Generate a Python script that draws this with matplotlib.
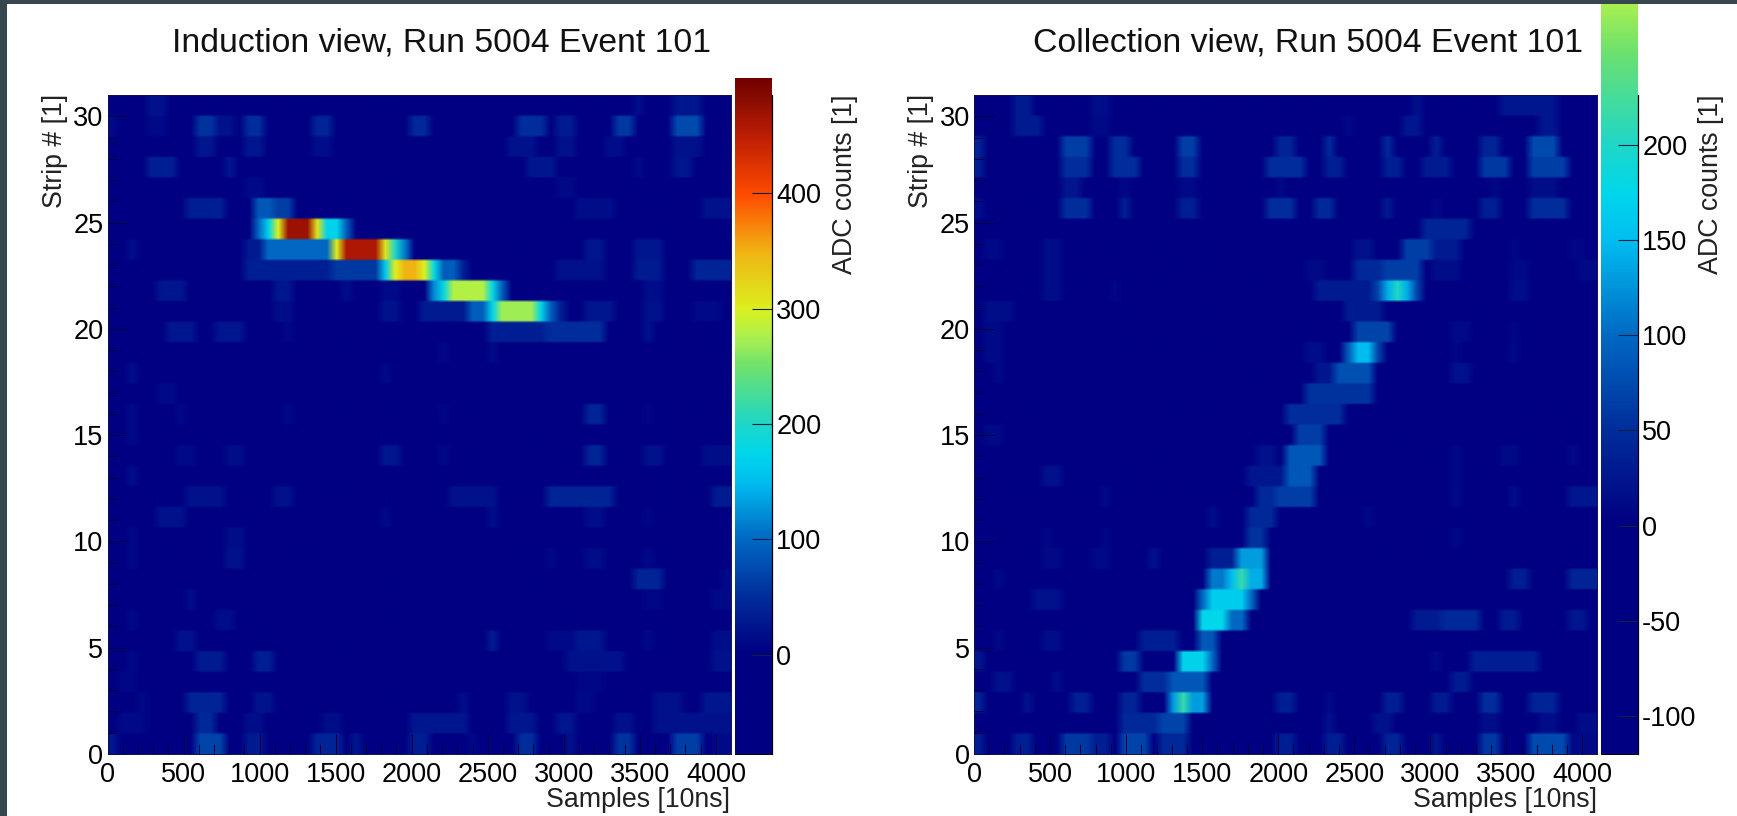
import numpy as np
import matplotlib
matplotlib.use("Agg")
import matplotlib.pyplot as plt
from matplotlib.colors import LinearSegmentedColormap, Normalize
from matplotlib.patches import Rectangle
from matplotlib.ticker import MultipleLocator

plt.rcParams['font.family'] = ['Liberation Sans', 'DejaVu Sans']
plt.rcParams['axes.unicode_minus'] = False

# hits per strip row: (first sample, last sample, adc counts)
ind_00 = [(0, 85, 25), (570, 790, 70), (905, 1020, 30), (1375, 1510, 40), (1610, 1690, 25), (1995, 2110, 35), (2340, 2430, 10), (2665, 2830, 50), (3015, 3085, 20), (3320, 3450, 55), (3685, 3905, 65), (3940, 4070, 10)]
ind_01 = [(85, 235, 10), (555, 720, 45), (920, 1055, 15), (1390, 1525, 15), (1995, 2365, 25), (2615, 2830, 25), (2930, 3100, 25), (3300, 3435, 20), (3585, 4096, 20)]
ind_02 = [(185, 250, 10), (535, 740, 40), (955, 1070, 22), (2280, 2365, 15), (2630, 2765, 20), (3065, 3200, 10), (3600, 3770, 20), (3920, 4096, 25)]
ind_03 = [(85, 185, 8), (3065, 3235, 8)]
ind_04 = [(115, 220, 10), (555, 755, 30), (940, 1090, 35), (3030, 3420, 20), (3955, 4096, 20)]
ind_05 = [(450, 585, 20), (2465, 2580, 30), (2900, 3065, 10), (3085, 3265, 25), (3535, 3585, 10), (3940, 4070, 15)]
ind_06 = [(150, 220, 10), (720, 840, 15)]
ind_07 = [(485, 550, 15), (3520, 3620, 8), (3955, 4070, 12)]
ind_08 = [(3450, 3620, 40), (4020, 4096, 10)]
ind_09 = [(115, 200, 10), (737, 870, 20), (2900, 2950, 10), (3135, 3235, 15), (3520, 3585, 10)]
ind_10 = [(115, 200, 10), (790, 870, 15)]
ind_11 = [(350, 485, 20), (1810, 1875, 10), (2500, 2580, 15), (3135, 3250, 15), (3550, 3585, 8)]
ind_12 = [(485, 790, 20), (1090, 1240, 20), (2210, 2530, 20), (2850, 3300, 40), (3970, 4096, 30)]
ind_13 = [(115, 200, 15)]
ind_14 = [(450, 550, 12), (790, 890, 15), (1790, 1910, 25), (2160, 2230, 10), (3115, 3285, 40), (3520, 3620, 20), (3920, 4070, 15)]
ind_15 = [(115, 185, 12)]
ind_16 = [(115, 220, 12), (450, 535, 10), (1140, 1205, 10), (2195, 2245, 8), (3115, 3285, 40), (3535, 3600, 8)]
ind_17 = [(335, 435, 12)]
ind_18 = [(115, 220, 15), (1810, 1875, 10)]
ind_19 = [(2160, 2210, 10), (2465, 2530, 12)]
ind_20 = [(400, 585, 25), (720, 870, 25), (1155, 1205, 10), (2465, 2900, 35), (2900, 3265, 50), (3500, 3600, 20)]
ind_21 = [(1090, 1220, 15), (1790, 1925, 20), (2060, 2395, 30), (2395, 2495, 90), (2495, 2565, 170), (2565, 2800, 270), (2800, 2865, 170), (2865, 2930, 90), (2930, 2980, 35), (3115, 3300, 25), (3520, 3620, 20), (3870, 4040, 10)]
ind_22 = [(335, 500, 25), (1090, 1240, 25), (1525, 1590, 15), (1790, 1890, 12), (2095, 2180, 120), (2180, 2260, 180), (2260, 2495, 280), (2495, 2580, 180), (2580, 2630, 90), (3520, 3620, 15)]
ind_23 = [(920, 1460, 35), (1460, 1776, 60), (1776, 1860, 160), (1860, 1925, 300), (1925, 2060, 350), (2060, 2130, 300), (2130, 2195, 180), (2195, 2295, 90), (2295, 2380, 35), (2915, 3265, 20), (3485, 3670, 30), (3870, 4096, 40)]
ind_24 = [(115, 220, 15), (870, 1040, 30), (1040, 1460, 100), (1460, 1490, 170), (1490, 1560, 300), (1560, 1790, 460), (1790, 1845, 310), (1845, 1895, 200), (1895, 1945, 110), (3115, 3265, 25), (3485, 3620, 25)]
ind_25 = [(955, 1040, 100), (1040, 1090, 170), (1090, 1150, 300), (1150, 1375, 470), (1375, 1430, 310), (1430, 1510, 170), (1510, 1590, 90)]
ind_26 = [(500, 755, 35), (940, 1090, 85), (1090, 1223, 65), (3050, 3335, 15), (3905, 4096, 20)]
ind_27 = [(905, 1055, 12), (2950, 3050, 12)]
ind_28 = [(285, 435, 35), (737, 855, 25), (2780, 2915, 25), (3435, 3520, 12), (3735, 3855, 25)]
ind_29 = [(570, 705, 25), (905, 1020, 25), (1375, 1475, 15), (2650, 2830, 20), (2965, 3065, 20), (3285, 3385, 15), (3720, 3890, 20)]
ind_30 = [(0, 70, 10), (285, 385, 12), (570, 720, 55), (720, 840, 20), (920, 1055, 50), (1357, 1485, 40), (1977, 2110, 45), (2665, 2850, 50), (2965, 3065, 30), (3335, 3450, 60), (3685, 3890, 75)]
ind_31 = [(285, 400, 20), (3435, 3535, 15), (3700, 3890, 25)]

col_00 = [(0, 75, 35), (270, 375, 35), (600, 760, 60), (760, 920, 35), (935, 1180, 70), (1200, 1410, 45), (1990, 2130, 35), (2320, 2430, 35), (2690, 2810, 40), (3005, 3090, 25), (3320, 3480, 60), (3670, 3880, 75), (3935, 4075, 10)]
col_01 = [(935, 1235, 45), (1235, 1390, 70), (2285, 2390, 20), (2655, 2760, 20), (3320, 3460, 15), (3690, 3830, 15), (3970, 4096, 15)]
col_02 = [(0, 75, 40), (290, 375, 20), (620, 780, 35), (935, 1095, 40), (1250, 1320, 130), (1320, 1410, 215), (1410, 1515, 130), (1990, 2095, 35), (2320, 2380, 12), (2670, 2795, 35), (2985, 3110, 30), (3320, 3460, 50), (3650, 3865, 40)]
col_03 = [(130, 235, 20), (480, 570, 15), (1095, 1305, 50), (1305, 1565, 85), (3145, 3285, 30)]
col_04 = [(7, 95, 25), (935, 1075, 60), (1320, 1375, 100), (1375, 1550, 170), (1550, 1620, 100), (2985, 3060, 12), (3250, 3690, 35)]
col_05 = [(145, 220, 10), (465, 550, 15), (1095, 1340, 35), (1445, 1620, 85)]
col_06 = [(1495, 1690, 175), (1690, 1810, 100), (2850, 3090, 30), (3090, 3300, 45), (3460, 3600, 30), (3900, 4040, 25)]
col_07 = [(410, 570, 20), (1460, 1515, 100), (1515, 1795, 165), (1795, 1865, 100)]
col_08 = [(110, 220, 10), (1515, 1655, 110), (1655, 1710, 150), (1710, 1810, 215), (1810, 1935, 140), (3495, 3635, 35), (3900, 4096, 40)]
col_09 = [(445, 550, 12), (795, 880, 10), (1165, 1235, 20), (1515, 1725, 35), (1725, 1935, 130)]
col_10 = [(445, 530, 10), (815, 865, 8), (1760, 1935, 55), (3160, 3230, 10)]
col_11 = [(1550, 1600, 15), (1780, 1970, 45), (2530, 2580, 10)]
col_12 = [(825, 865, 10), (1865, 2005, 45), (2005, 2215, 65), (3160, 3230, 12), (3510, 3580, 15), (3935, 4075, 25)]
col_13 = [(430, 550, 20), (1795, 2025, 25), (2025, 2215, 85), (3160, 3230, 10)]
col_14 = [(1830, 1970, 20), (2075, 2300, 85), (3160, 3230, 10), (3480, 3580, 12), (3900, 3995, 12)]
col_15 = [(77, 220, 12), (2130, 2300, 65)]
col_16 = [(2040, 2460, 50)]
col_17 = [(2200, 2600, 55)]
col_18 = [(115, 220, 10), (2235, 2390, 25), (2390, 2620, 80), (3160, 3265, 20)]
col_19 = [(95, 200, 12), (2165, 2285, 15), (2440, 2495, 90), (2495, 2600, 150), (2600, 2690, 70), (3160, 3230, 8), (3510, 3580, 10)]
col_20 = [(40, 200, 12), (2495, 2740, 70), (3160, 3250, 12), (3510, 3600, 8)]
col_21 = [(40, 235, 15), (2460, 2670, 30)]
col_22 = [(445, 585, 15), (900, 950, 8), (2250, 2600, 30), (2600, 2670, 70), (2670, 2740, 140), (2740, 2830, 200), (2830, 2900, 140), (2900, 2970, 70), (3530, 3650, 15)]
col_23 = [(445, 585, 15), (2180, 2285, 12), (2495, 2670, 45), (2670, 2915, 65), (3020, 3200, 15), (3530, 3630, 10), (3985, 4075, 12)]
col_24 = [(40, 180, 10), (445, 550, 15), (2495, 2600, 20), (2830, 3020, 65), (3020, 3200, 30), (3550, 3600, 8), (3900, 4005, 8)]
col_25 = [(2915, 3285, 40)]
col_26 = [(0, 60, 15), (585, 760, 50), (935, 1040, 35), (1340, 1445, 35), (1950, 2130, 50), (2270, 2390, 45), (2670, 2775, 30), (2985, 3055, 10), (3320, 3445, 35), (3635, 3880, 50)]
col_27 = [(550, 710, 25), (935, 990, 10), (1375, 1445, 10), (1970, 2075, 10), (3375, 3445, 10), (3650, 3830, 15)]
col_28 = [(0, 75, 35), (585, 760, 50), (900, 1075, 50), (1320, 1460, 50), (1950, 2145, 50), (2300, 2410, 35), (2670, 2795, 35), (2970, 3125, 30), (3300, 3510, 60), (3635, 3900, 65)]
col_29 = [(0, 75, 40), (600, 745, 65), (920, 1040, 50), (1320, 1445, 65), (1970, 2090, 40), (2300, 2390, 45), (2670, 2775, 45), (2985, 3075, 35), (3320, 3425, 40), (3650, 3865, 75)]
col_30 = [(250, 430, 30), (795, 865, 12), (2460, 2510, 10), (2830, 2935, 25), (3725, 3865, 25)]
col_31 = [(235, 375, 30), (795, 865, 15), (2865, 2970, 20), (3445, 3865, 25)]

ind_rows = [ind_00, ind_01, ind_02, ind_03, ind_04, ind_05, ind_06, ind_07, ind_08, ind_09, ind_10,
            ind_11, ind_12, ind_13, ind_14, ind_15, ind_16, ind_17, ind_18, ind_19, ind_20, ind_21,
            ind_22, ind_23, ind_24, ind_25, ind_26, ind_27, ind_28, ind_29, ind_30, ind_31]
col_rows = [col_00, col_01, col_02, col_03, col_04, col_05, col_06, col_07, col_08, col_09, col_10,
            col_11, col_12, col_13, col_14, col_15, col_16, col_17, col_18, col_19, col_20, col_21,
            col_22, col_23, col_24, col_25, col_26, col_27, col_28, col_29, col_30, col_31]

x_ticks = [0, 500, 1000, 1500, 2000, 2500, 3000, 3500, 4000]
y_ticks = [0, 5, 10, 15, 20, 25, 30]
ind_bar_ticks = [0, 100, 200, 300, 400]
col_bar_ticks = [-100, -50, 0, 50, 100, 150, 200]

# palette as adc value -> colour, shared by the two views
pal_values = [-120, 0, 50, 100, 150, 175, 200, 250, 275, 300, 350, 400, 450, 487, 501]
pal_colors = ['#000082', '#000082', '#002d9b', '#0069c3', '#00bef0', '#00d7eb', '#1ed7c8',
              '#6ee16e', '#aaf050', '#dcf01e', '#f0b414', '#ff4b00', '#be1e05', '#820a00', '#730000']

norm = Normalize(vmin=pal_values[0], vmax=pal_values[-1])
cmap = LinearSegmentedColormap.from_list(
    'adc', [(norm(v), c) for v, c in zip(pal_values, pal_colors)], N=512)

W, H = 1737, 816
BAND = '#37474f'
FONT = 19.5
BIN = 64


def box(x0, y0, x1, y1):
    # pixel box, y from the top
    return [x0 / W, 1 - y1 / H, (x1 - x0) / W, (y1 - y0) / H]


def fill_grid(rows):
    grid = np.zeros((len(rows), 4096 // BIN))
    for i, hits in enumerate(rows):
        for start, stop, adc in hits:
            first = round(start / BIN)
            grid[i, first:max(round(stop / BIN), first + 1)] = adc
    return grid


def draw_view(fig, rows, title, x0, title_x):
    ax = fig.add_axes(box(x0, 95, x0 + 623, 754))
    # repeat rows so the smoothing mostly acts along the samples
    ax.imshow(np.repeat(fill_grid(rows), 8, axis=0), origin='lower', extent=[0, 4096, 0, 31],
              aspect='auto', cmap=cmap, norm=norm, interpolation='bilinear')
    ax.set_xlim(0, 4096)
    ax.set_ylim(0, 31)
    ax.set_xticks(x_ticks)
    ax.set_yticks(y_ticks)
    ax.xaxis.set_minor_locator(MultipleLocator(100))
    ax.yaxis.set_minor_locator(MultipleLocator(1))
    ax.tick_params(which='major', direction='in', length=14.4, width=0.7, color='#00003c', labelsize=FONT)
    ax.tick_params(which='minor', direction='in', length=7.2, width=0.7, color='#00003c')
    ax.tick_params(axis='x', which='major', pad=6)
    ax.tick_params(axis='y', which='major', pad=3)
    for spine in ax.spines.values():
        spine.set_linewidth(0.7)
        spine.set_color('#101050')
    fig.text(title_x / W, 1 - 43 / H, title, fontsize=24.3, ha='center', va='center', color='#111111')
    fig.text((x0 + 623) / W, 1 - 800 / H, 'Samples [10ns]', fontsize=19.3, ha='right', va='center', color='#222222')
    fig.text((x0 - 53) / W, 1 - 94 / H, 'Strip # [1]', fontsize=19.3, rotation=90,
             ha='center', va='top', color='#222222')
    return ax


def draw_bar(fig, x0, top, vmin, vmax, axis_top, ticks):
    cax = fig.add_axes(box(x0, top, x0 + 37, 754))
    cax.imshow(np.linspace(vmin, vmax, 512)[:, None], origin='lower', extent=[0, 1, vmin, vmax],
               aspect='auto', cmap=cmap, norm=norm)
    cax.set_xlim(0, 1)
    cax.set_ylim(vmin, vmax)
    cax.set_xticks([])
    cax.yaxis.tick_right()
    cax.set_yticks(ticks)
    cax.tick_params(direction='in', length=14.4, width=0.8, color='#102040', labelsize=FONT, pad=3)
    for name in ['top', 'left']:
        cax.spines[name].set_visible(False)
    cax.spines['bottom'].set_linewidth(0.7)
    cax.spines['right'].set_bounds(vmin, axis_top)
    cax.spines['right'].set_linewidth(0.9)
    fig.text((x0 + 110) / W, 1 - 94 / H, 'ADC counts [1]', fontsize=19.3, rotation=90,
             ha='center', va='top', color='#222222')
    return cax


fig = plt.figure(figsize=(W / 100, H / 100), dpi=100, facecolor='white')
fig.add_artist(Rectangle((0, 0), 7 / W, 1, transform=fig.transFigure, color=BAND, lw=0))
fig.add_artist(Rectangle((0, 1 - 4 / H), 1, 4 / H, transform=fig.transFigure, color=BAND, lw=0))

draw_view(fig, ind_rows, 'Induction view, Run 5004 Event 101', 107.5, 441)
draw_bar(fig, 735, 78, -86, 500, 485, ind_bar_ticks)
draw_view(fig, col_rows, 'Collection view, Run 5004 Event 101', 974, 1308)
draw_bar(fig, 1601, 4, -120, 274, 226, col_bar_ticks)

fig.savefig('out.png', dpi=100, facecolor='white')
